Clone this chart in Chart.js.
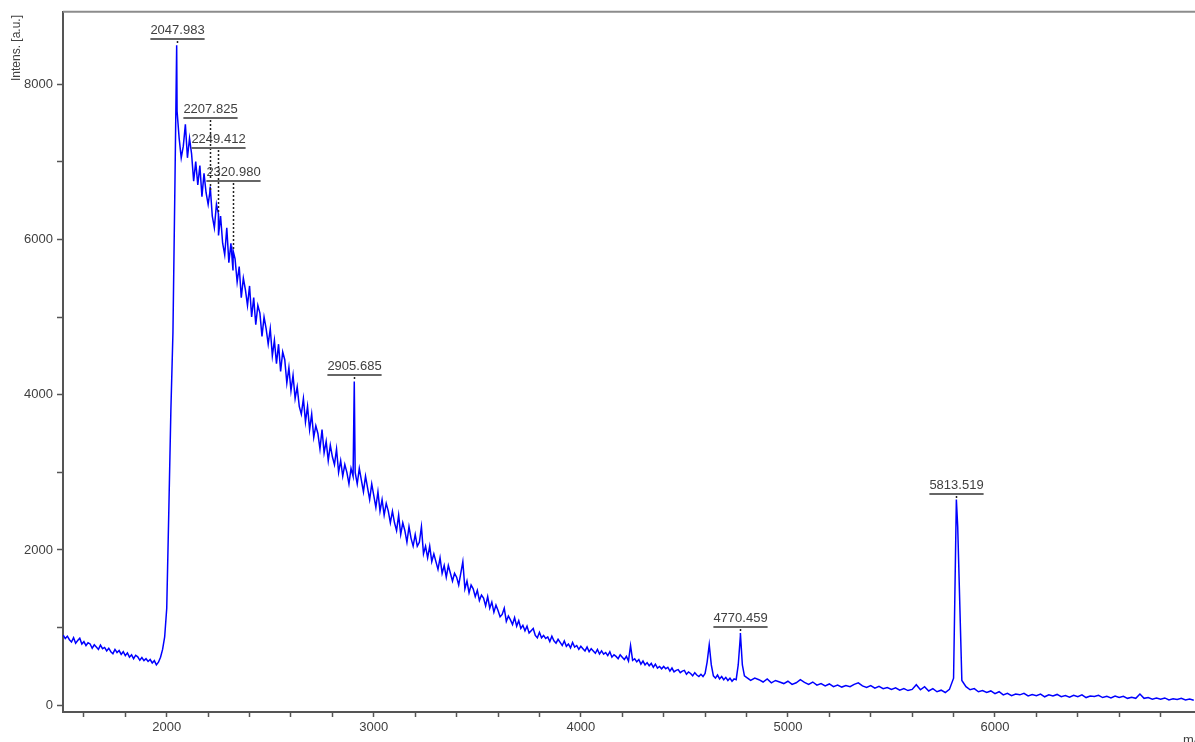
<!DOCTYPE html>
<html>
<head>
<meta charset="utf-8">
<script src="https://cdn.jsdelivr.net/npm/chart.js@4/dist/chart.umd.min.js"></script>
<style>
  html, body { margin: 0; padding: 0; background: #fff; }
</style>
</head>
<body>
<canvas id="spectrum" width="1195" height="742"></canvas>
<script>
// sampling grid of the spectrum (m/z start and step of each block)
var lowStart = 1500, lowStep = 10;
var highStart = 4800, highStep = 20;

// intensities, 1500..4790 every 10
var lowIntensity = [
  905, 860, 890, 845, 815, 870, 800, 835, 865, 790,
  820, 770, 805, 790, 735, 780, 750, 720, 775, 730,
  745, 700, 735, 690, 665, 720, 680, 705, 655, 690,
  640, 675, 620, 650, 600, 645, 625, 580, 615, 575,
  600, 565, 590, 545, 575, 520, 555, 620, 720, 880,
  1250, 2500, 3800, 4800, 6800, 7650, 7300, 7050, 7200, 7480,
  7050, 7300, 7100, 6750, 7000, 6700, 6950, 6550, 6850, 6600,
  6450, 6680, 6300, 6150, 6450, 6050, 6300, 5950, 5800, 6150,
  5700, 5950, 5600, 5750, 5450, 5650, 5250, 5500, 5350, 5150,
  5400, 5000, 5250, 4900, 5150, 5050, 4750, 5000, 4850, 4650,
  4850, 4500, 4700, 4400, 4650, 4300, 4550, 4450, 4150, 4350,
  4050, 4250, 3950, 4100, 3850, 3750, 3950, 3650, 3850, 3550,
  3750, 3450, 3600, 3500, 3300, 3550, 3250, 3400, 3150, 3350,
  3200, 3100, 3300, 3000, 3150, 2950, 3100, 3000, 2850, 3050,
  2950, 3000, 2850, 3050, 2900, 2750, 2950, 2800, 2650, 2850,
  2700, 2550, 2750, 2500, 2650, 2450, 2600, 2500, 2350, 2500,
  2350, 2250, 2450, 2200, 2350, 2250, 2100, 2300, 2150, 2050,
  2200, 2050, 2100, 2300, 1950, 2050, 1900, 2050, 1850, 1950,
  1850, 1750, 1900, 1700, 1800, 1650, 1800, 1700, 1600, 1700,
  1650, 1550, 1700, 1850, 1500, 1600, 1450, 1550, 1500, 1400,
  1480, 1350, 1420, 1380, 1280, 1400, 1250, 1330, 1200, 1290,
  1220, 1140, 1170, 1250, 1080, 1150, 1100, 1040, 1130, 1020,
  1090, 990, 1030, 960, 1020, 930, 960, 990, 900, 870,
  940, 870, 900, 860, 880, 820, 890, 830, 800, 850,
  810, 770, 830, 760, 790, 740, 810, 750, 770, 720,
  760, 730, 700, 750, 690, 730, 700, 670, 720, 660,
  700, 660, 680, 640, 690, 620, 650, 630, 600, 650,
  620, 590, 630, 570, 770, 580, 600, 560, 590, 530,
  570, 520, 550, 510, 540, 490, 530, 480, 500, 470,
  500, 470, 490, 440, 480, 430, 450, 460, 420, 440,
  450, 400, 430, 410, 380, 420, 390, 370, 400, 370,
  410, 560, 780, 520, 380, 350, 390, 340, 370, 330,
  360, 320, 350, 310, 340, 330, 520, 880, 520, 380
];

// intensities 4800..6960 every 20
var highIntensity = [
  360, 320, 350, 330, 300, 340, 290, 320, 300, 280,
  310, 270, 290, 330, 295, 270, 300, 260, 280, 250,
  275, 240, 260, 235, 255, 240, 270, 290, 250, 230,
  255, 220, 245, 215, 230, 205, 225, 195, 215, 190,
  205, 265, 200, 240, 185, 215, 175, 195, 165, 205,
  350, 2300, 320, 240, 200, 215, 175, 190, 165, 185,
  150, 175, 135, 155, 125, 145, 135, 155, 120, 140,
  125, 145, 110, 135, 120, 140, 110, 125, 105, 130,
  110, 135, 100, 120, 115, 130, 100, 115, 95, 120,
  100, 115, 90, 105, 90, 145, 90, 100, 80, 95,
  80, 95, 70, 85, 75, 90, 70, 80, 65
];

// labelled peaks
var peakMz = [2047.983, 2207.825, 2249.412, 2320.980, 2905.685, 4770.459, 5813.519];
var peakIntensity = [8500, 6600, 6330, 5850, 4170, 930, 2650];

var xTickValues = [1600, 1800, 2000, 2200, 2400, 2600, 2800, 3000, 3200, 3400, 3600, 3800,
  4000, 4200, 4400, 4600, 4800, 5000, 5200, 5400, 5600, 5800, 6000, 6200, 6400, 6600, 6800];
var yTickValues = [0, 1000, 2000, 3000, 4000, 5000, 6000, 7000, 8000];

var points = [];
lowIntensity.forEach(function (v, i) { points.push({x: lowStart + i * lowStep, y: v}); });
highIntensity.forEach(function (v, i) { points.push({x: highStart + i * highStep, y: v}); });
peakMz.forEach(function (m, i) { points.push({x: m, y: peakIntensity[i]}); });
points.sort(function (a, b) { return a.x - b.x; });

var FONT = '"Liberation Sans", Arial, sans-serif';
var TEXT = '#404040';
var AXIS = '#555555';

// peak labels sit just above the highest point of the trace under them
var peakLabels = {
  id: 'peakLabels',
  afterDatasetsDraw: function (chart) {
    var ctx = chart.ctx, x = chart.scales.x, y = chart.scales.y;
    ctx.save();
    ctx.font = '13px ' + FONT;
    peakMz.forEach(function (mz, i) {
      var text = mz.toFixed(3);
      var w = ctx.measureText(text).width;
      var px = Math.round(x.getPixelForValue(mz)) + 0.5;
      var left = px - w / 2 - 1, right = px + w / 2 + 1;
      var peakPy = y.getPixelForValue(peakIntensity[i]);
      var top = peakPy;
      points.forEach(function (p) {
        var qx = x.getPixelForValue(p.x);
        if (qx >= left && qx <= right) top = Math.min(top, y.getPixelForValue(p.y));
      });
      var lineY = Math.round(top - 6);

      ctx.strokeStyle = '#666666';
      ctx.lineWidth = 2;
      ctx.beginPath();
      ctx.moveTo(left + 1, lineY);
      ctx.lineTo(right - 1, lineY);
      ctx.stroke();

      ctx.fillStyle = TEXT;
      ctx.textAlign = 'center';
      ctx.textBaseline = 'bottom';
      ctx.fillText(text, px, lineY - 2);

      ctx.strokeStyle = '#222222';
      ctx.lineWidth = 1.5;
      ctx.setLineDash([2, 2]);
      ctx.beginPath();
      ctx.moveTo(px, lineY + 2);
      ctx.lineTo(px, peakPy - 1);
      ctx.stroke();
      ctx.setLineDash([]);
    });
    ctx.restore();
  }
};

var frame = {
  id: 'frame',
  afterDraw: function (chart) {
    var ctx = chart.ctx, area = chart.chartArea;
    ctx.save();
    ctx.strokeStyle = '#8c8c8c';
    ctx.lineWidth = 2;
    ctx.beginPath();
    ctx.moveTo(area.left, area.top);
    ctx.lineTo(chart.width, area.top);
    ctx.stroke();

    ctx.fillStyle = TEXT;
    ctx.font = '12px ' + FONT;
    ctx.translate(17, 81);
    ctx.rotate(-Math.PI / 2);
    ctx.textAlign = 'left';
    ctx.textBaseline = 'middle';
    ctx.fillText('Intens. [a.u.]', 0, 0);
    ctx.restore();

    ctx.save();
    ctx.fillStyle = TEXT;
    ctx.font = '13px ' + FONT;
    ctx.textAlign = 'left';
    ctx.textBaseline = 'alphabetic';
    ctx.fillText('m/z', 1183, 744);
    ctx.restore();
  }
};

var ctx = document.getElementById('spectrum').getContext('2d');
var chart = new Chart(ctx, {
  type: 'line',
  data: {
    datasets: [{
      label: 'spectrum',
      data: points,
      borderColor: '#0000ff',
      borderWidth: 1.5,
      pointRadius: 0,
      tension: 0,
      fill: false
    }]
  },
  options: {
    responsive: false,
    animation: false,
    parsing: false,
    layout: { padding: { top: 11, right: 0, left: 0, bottom: 0 } },
    plugins: { legend: { display: false }, tooltip: { enabled: false } },
    scales: {
      x: {
        type: 'linear',
        min: 1499,
        max: 6966,
        afterBuildTicks: function (scale) {
          scale.ticks = xTickValues.map(function (v) { return {value: v}; });
        },
        afterFit: function (scale) { scale.height = 30; },
        ticks: {
          autoSkip: false,
          maxRotation: 0,
          padding: 3,
          color: TEXT,
          font: { family: FONT, size: 13 },
          callback: function (v) { return v % 1000 === 0 ? String(v) : ''; }
        },
        grid: { drawOnChartArea: false, drawTicks: true, tickLength: 5, tickColor: AXIS, tickWidth: 1.5 },
        border: { display: true, color: AXIS, width: 2 }
      },
      y: {
        type: 'linear',
        min: -86,
        max: 8930,
        afterBuildTicks: function (scale) {
          scale.ticks = yTickValues.map(function (v) { return {value: v}; });
        },
        afterFit: function (scale) { scale.width = 63; },
        ticks: {
          autoSkip: false,
          padding: 4,
          color: TEXT,
          font: { family: FONT, size: 13 },
          callback: function (v) { return v % 2000 === 0 ? String(v) : ''; }
        },
        grid: { drawOnChartArea: false, drawTicks: true, tickLength: 6, tickColor: AXIS, tickWidth: 1.5 },
        border: { display: true, color: AXIS, width: 2 }
      }
    }
  },
  plugins: [peakLabels, frame]
});
</script>
</body>
</html>
